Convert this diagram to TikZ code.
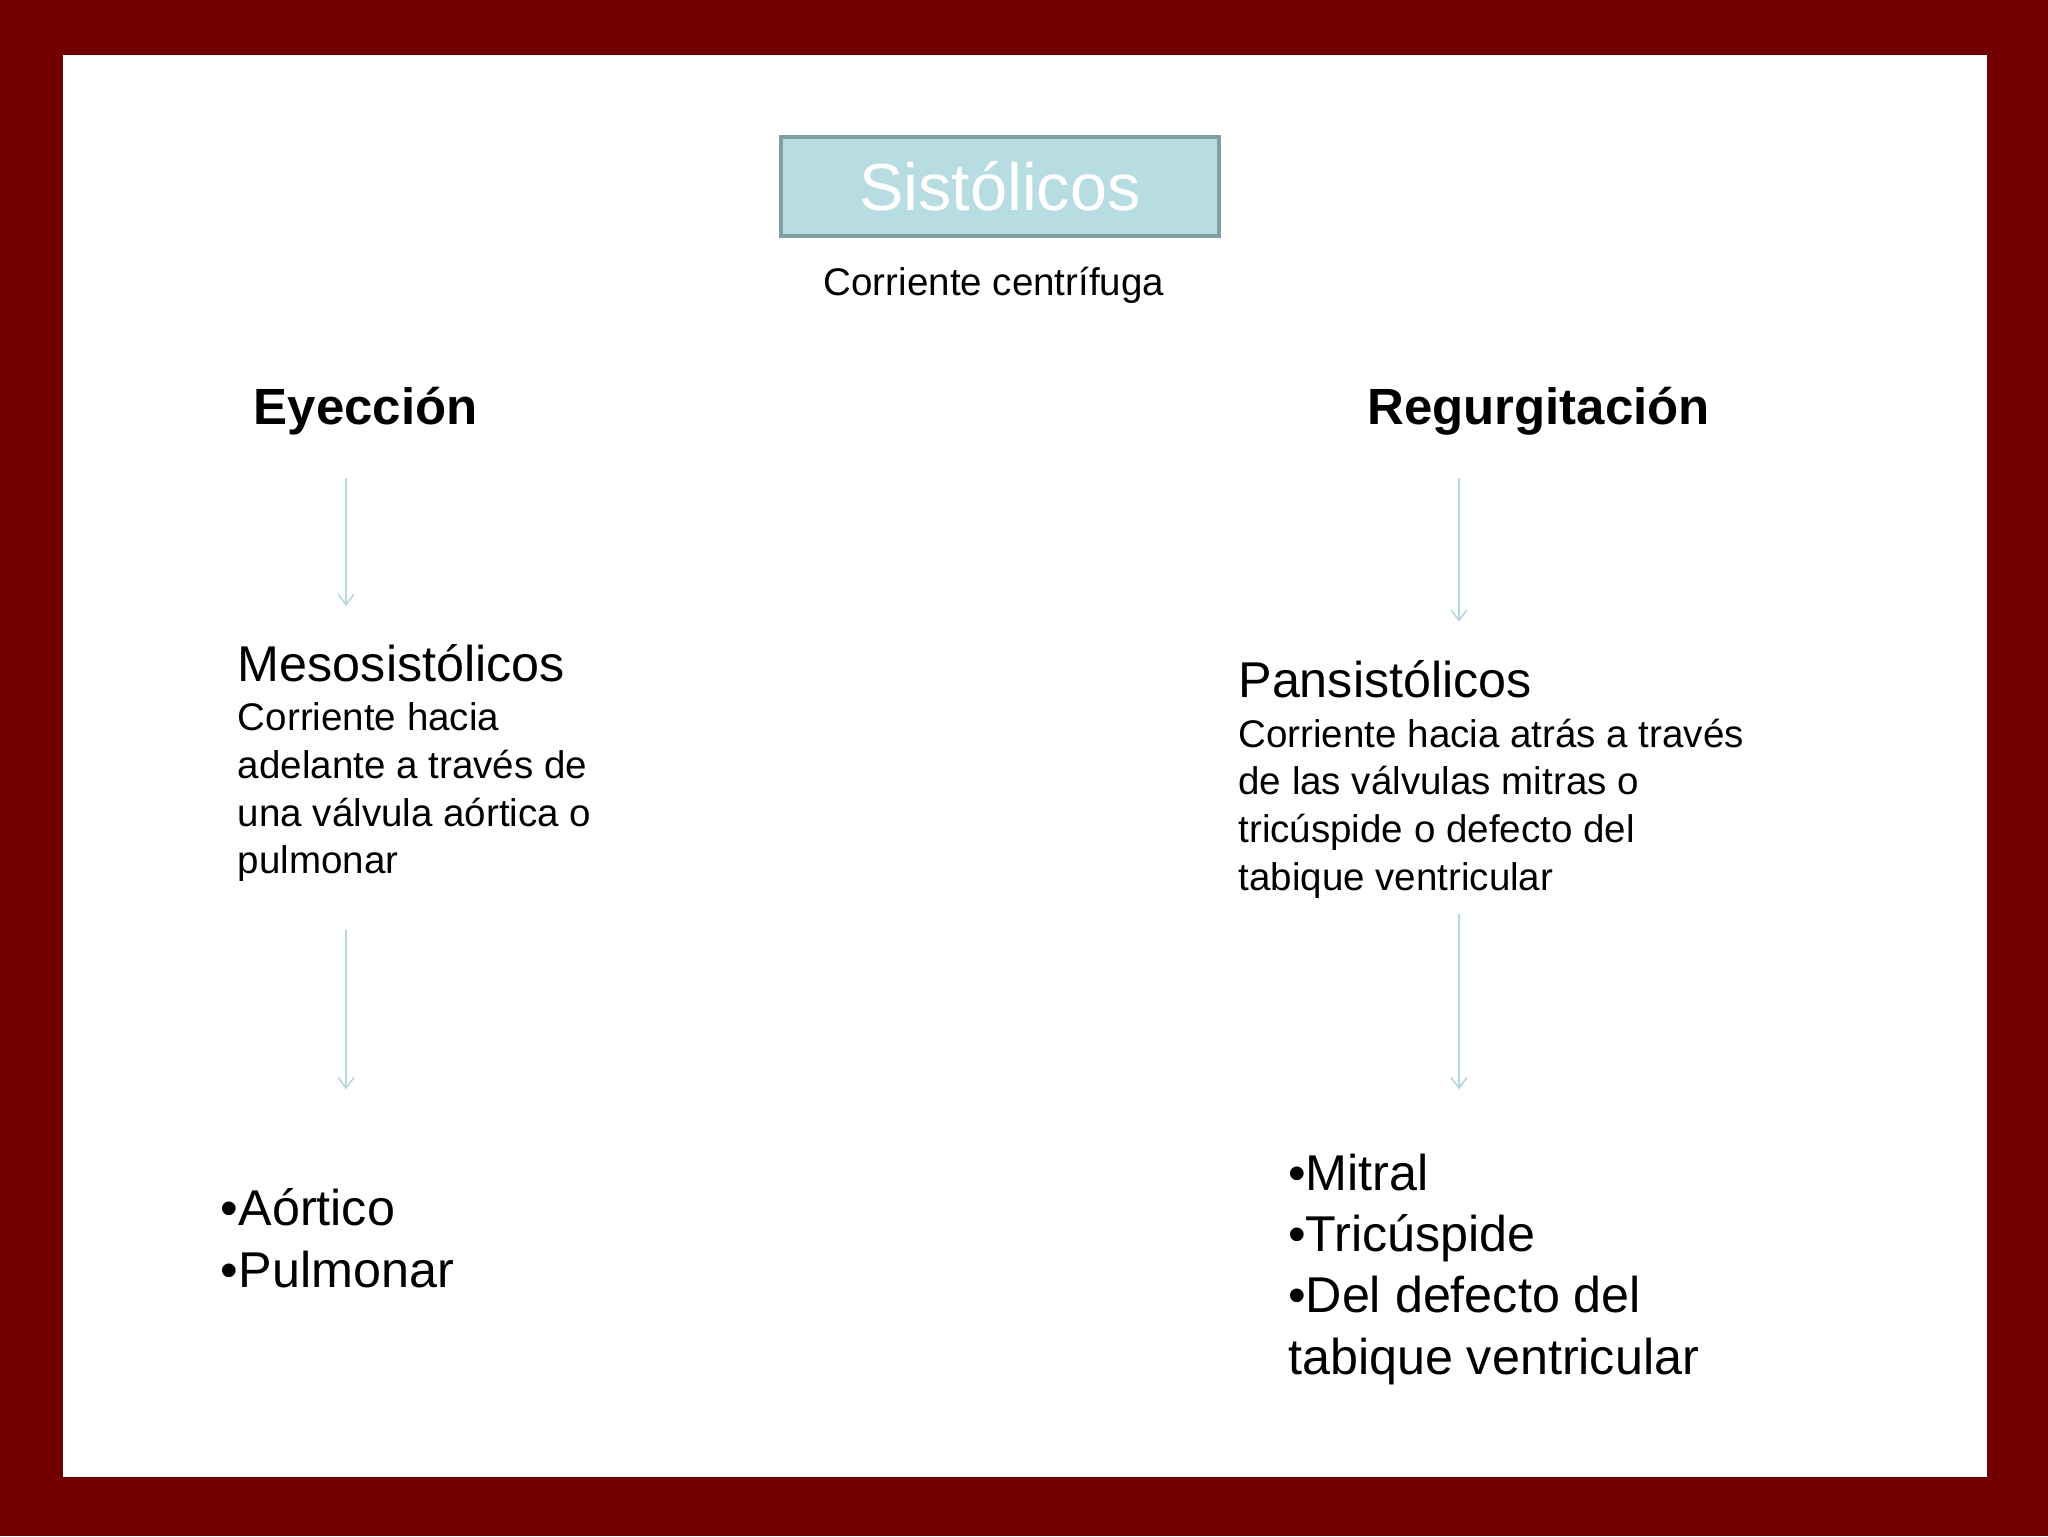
\documentclass[tikz,border=0pt]{standalone}
\usepackage{fontspec}
\setmainfont{Liberation Sans}
\usetikzlibrary{arrows.meta}
\definecolor{frame}{HTML}{720000}
\definecolor{boxfill}{HTML}{B7DDE3}
\definecolor{boxline}{HTML}{7F9FA0}
\definecolor{arr}{HTML}{B2D8DC}
\begin{document}
\begin{tikzpicture}[x=1pt,y=-1pt,
  txt/.style={anchor=base west,align=left,inner sep=0pt},
  conn/.style={draw=arr,line width=1.2pt,-{Straight Barb[length=8pt,width=12pt]}}]
\useasboundingbox (0,0) rectangle (1568,1176);
\fill[frame] (0,0) rectangle (1568,1176);
\fill[white] (48,42) rectangle (1521,1131);
\node[draw=boxline,fill=boxfill,line width=3pt,minimum width=335pt,minimum height=76pt,inner sep=0pt,text=white,font=\fontsize{51}{60}\selectfont] (s) at (765.5,143) {Sistólicos};
\node[txt,anchor=base,font=\fontsize{29.5}{34}\selectfont] (c) at (761,226) {Corriente centrífuga};
\node[txt,anchor=base,font=\bfseries\fontsize{39}{44}\selectfont] (e) at (280,325) {Eyección};
\node[txt,anchor=base,font=\bfseries\fontsize{39}{44}\selectfont] (r) at (1178,325) {Regurgitación};
\coordinate (e1) at (265,366); \coordinate (e2) at (265,464);
\coordinate (r1) at (1117,366); \coordinate (r2) at (1117,476);
\coordinate (e3) at (265,712); \coordinate (e4) at (265,834);
\coordinate (r3) at (1117,700); \coordinate (r4) at (1117,834);
\draw[conn] (e1) -- (e2);
\draw[conn] (r1) -- (r2);
\draw[conn] (e3) -- (e4);
\draw[conn] (r3) -- (r4);
\node[txt,font=\fontsize{38.5}{44}\selectfont] (m) at (182,522) {Mesosistólicos};
\node[txt,anchor=north west,font=\fontsize{29.5}{36.5}\selectfont] (mb) at (182,538) {Corriente hacia\\adelante a través de\\una válvula aórtica o\\pulmonar};
\node[txt,font=\fontsize{38.5}{44}\selectfont] (p) at (948,534) {Pansistólicos};
\node[txt,anchor=north west,font=\fontsize{29.5}{36.5}\selectfont] (pb) at (948,550) {Corriente hacia atrás a través\\de las válvulas mitras o\\tricúspide o defecto del\\tabique ventricular};
\node[txt,anchor=north west,font=\fontsize{38.5}{47}\selectfont] (a) at (169,910) {•Aórtico\\•Pulmonar};
\node[txt,anchor=north west,font=\fontsize{38.5}{47}\selectfont] (b) at (986,883) {•Mitral\\•Tricúspide\\•Del defecto del\\tabique ventricular};
\end{tikzpicture}
\end{document}
